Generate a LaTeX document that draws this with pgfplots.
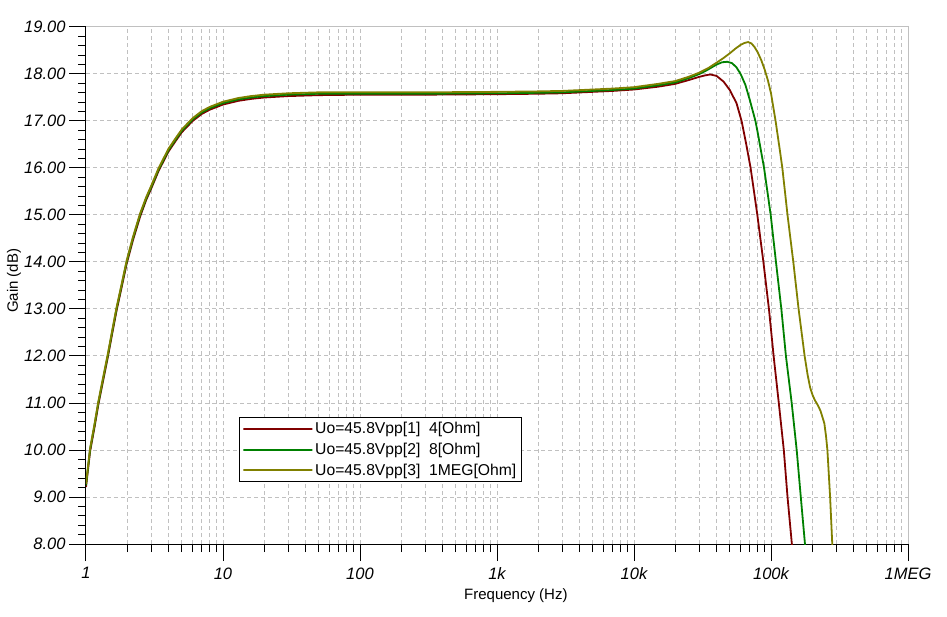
\documentclass[border=0pt]{standalone}
\usepackage{fontspec}
\setmainfont{Liberation Sans}
\usepackage{pgfplots}
\pgfplotsset{compat=1.18}
\usepackage{pgfplotstable}
\definecolor{cred}{HTML}{800000}
\definecolor{cgreen}{HTML}{008000}
\definecolor{colive}{HTML}{808000}
\definecolor{gridgray}{HTML}{C0C0C0}

\pgfplotstableread{
f g
1 9.21
1.07 9.96
1.15 10.46
1.23 10.96
1.33 11.46
1.44 11.96
1.55 12.46
1.67 12.96
1.82 13.46
1.98 13.96
2.2 14.46
2.48 14.96
2.75 15.32
3 15.57
3.39 15.94
4 16.35
4.5 16.57
5 16.76
6 17.00
7 17.15
8 17.24
10 17.35
13 17.43
16 17.47
20 17.50
30 17.53
50 17.55
100 17.56
300 17.56
1000 17.57
2000 17.58
3000 17.59
5000 17.62
7000 17.64
10000 17.67
15000 17.73
20000 17.79
25000 17.87
30000 17.94
33000 17.97
36000 17.99
40000 17.96
45000 17.84
50000 17.66
56000 17.38
61000 17.00
66000 16.50
71000 16.00
79500 15.0
88000 14.0
96600 13.0
104500 12.0
114000 11.0
124000 10.0
132000 9.0
142000 8.0
150000 7.2
}\redtab

\pgfplotstableread{
f g
1 9.25
1.07 10.0
1.15 10.5
1.23 11.0
1.33 11.5
1.44 12.0
1.55 12.5
1.67 13.0
1.82 13.5
1.98 14.0
2.2 14.5
2.48 15.0
2.75 15.35
3 15.6
3.39 15.97
4 16.38
4.5 16.6
5 16.79
6 17.03
7 17.18
8 17.27
10 17.38
13 17.46
16 17.50
20 17.53
30 17.56
50 17.58
100 17.58
300 17.58
1000 17.59
2000 17.60
3000 17.61
5000 17.64
7000 17.66
10000 17.69
15000 17.76
20000 17.82
25000 17.91
30000 18.00
34000 18.08
40000 18.20
44000 18.25
48000 18.26
52000 18.23
56000 18.14
60000 18.00
65000 17.77
70000 17.45
77000 17.00
80000 16.75
89000 16.0
99500 15.0
108700 14.0
119000 13.0
128500 12.0
141600 11.0
154000 10.0
165000 9.0
177000 8.0
185000 7.3
}\greentab

\pgfplotstableread{
f g
1 9.28
1.07 10.03
1.15 10.53
1.23 11.03
1.33 11.53
1.44 12.03
1.55 12.53
1.67 13.03
1.82 13.53
1.98 14.03
2.2 14.53
2.48 15.03
2.75 15.38
3 15.63
3.39 16.0
4 16.41
4.5 16.63
5 16.82
6 17.06
7 17.21
8 17.30
10 17.41
13 17.49
16 17.53
20 17.56
30 17.59
50 17.61
100 17.61
300 17.61
1000 17.62
2000 17.63
3000 17.64
5000 17.67
7000 17.69
10000 17.72
15000 17.79
20000 17.85
25000 17.94
30000 18.03
35000 18.13
40000 18.24
45000 18.34
50000 18.44
55000 18.54
60000 18.62
64000 18.66
68000 18.68
72000 18.65
76000 18.57
80000 18.46
85000 18.29
90000 18.09
95000 17.86
100000 17.59
108000 17.00
116000 16.38
121000 16.0
132000 15.0
145500 14.0
159000 13.0
176000 12.0
185000 11.6
193000 11.33
201000 11.17
209000 11.06
220000 10.95
230000 10.83
245000 10.57
252000 10.3
258000 10.0
264000 9.5
270000 9.0
275000 8.5
280000 8.0
285000 7.5
}\olivetab

\begin{document}
\begin{tikzpicture}
\path[use as bounding box] (-86pt,-72pt) rectangle (861pt,544pt);
\begin{axis}[
  name=ax,
  at={(0,0)}, anchor=south west,
  scale only axis,
  width=822pt, height=517pt,
  xmode=log, xmin=1, xmax=1e6,
  ymin=8, ymax=19,
  axis x line*=bottom, axis y line*=left,
  axis line style={black, line width=1pt},
  tick align=outside,
  major tick length=17pt, minor tick length=8pt,
  tick style={black, line width=1pt},
  xtick={1,10,100,1000,10000,100000,1000000},
  xticklabels={1,10,100,1k,10k,100k,1MEG},
  ytick={8,9,10,11,12,13,14,15,16,17,18,19},
  yticklabels={8.00,9.00,10.00,11.00,12.00,13.00,14.00,15.00,16.00,17.00,18.00,19.00},
  minor y tick num=4,
  xmajorgrids, xminorgrids, ymajorgrids,
  major grid style={gridgray, dash pattern=on 4pt off 3pt, line width=1pt},
  minor grid style={gridgray, dash pattern=on 4pt off 3pt, line width=1pt},
  ticklabel style={font=\fontsize{16.5}{19}\selectfont\itshape},
  xticklabel style={yshift=-3pt},
  xlabel={Frequency (Hz)},
  ylabel={Gain (dB)},
  label style={font=\fontsize{15}{18}\selectfont},
  xlabel style={at={(axis description cs:0.523,-0.1006)}, anchor=center},
  ylabel style={at={(axis description cs:-0.0876,0.509)}, anchor=center},
  legend style={at={(axis description cs:0.186,0.2456)}, anchor=north west,
    draw=black, line width=1pt, fill=white, font=\fontsize{15.7}{18}\selectfont,
    inner xsep=3pt, inner ysep=3pt, row sep=3.8pt, cells={anchor=west}},
  legend image code/.code={\path (0pt,0pt) rectangle (69pt,0pt); \draw[#1, line width=2pt] (2pt,0pt) -- (67pt,0pt);},
  legend cell align=left,
]
\addplot[cred, line width=1.8pt] table[x=f,y=g] {\redtab};
\addlegendentry{Uo=45.8Vpp[1]~~4[Ohm]}
\addplot[cgreen, line width=1.8pt] table[x=f,y=g] {\greentab};
\addlegendentry{Uo=45.8Vpp[2]~~8[Ohm]}
\addplot[colive, line width=1.8pt] table[x=f,y=g] {\olivetab};
\addlegendentry{Uo=45.8Vpp[3]~~1MEG[Ohm]}
\end{axis}
\draw[gridgray, line width=1pt] (ax.north west) -- (ax.north east) -- (ax.south east);
\end{tikzpicture}
\end{document}
